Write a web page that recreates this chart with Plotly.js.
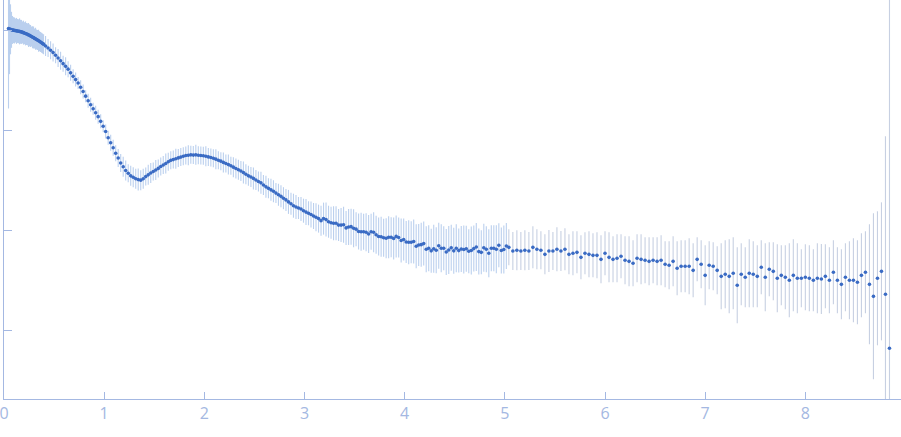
<!DOCTYPE html>
<html>
<head>
<meta charset="utf-8">
<script src="https://cdn.plot.ly/plotly-3.0.1.min.js"></script>
<style>html,body{margin:0;padding:0;background:#fff;}#chart{width:901px;height:437px;}</style>
</head>
<body>
<div id="chart"></div>
<script>
// Scattering vector (x axis), densely sampled part
const qDense = [0.045,0.055,0.065,0.075,0.085,0.095,0.105,0.115,0.125,0.135,0.145,0.155,0.165,0.175,0.185,0.195,0.205,0.215,0.225,0.235,0.245,0.255,0.265,0.275,0.285,0.295,0.305,0.315,0.325,0.335,0.345,0.355,0.365,0.375,0.385,0.395,
0.415,0.44,0.465,0.49,0.515,0.54,0.565,0.59,0.615,0.64,0.665,0.69,0.715,0.74,0.765,0.79,0.815,0.84,0.865,0.89,0.915,0.94,0.965,0.99,1.015,1.04,1.065,1.09,1.115,1.14,1.165,1.19,1.215,1.24,1.265,1.29,1.315,1.34,1.365,1.39,1.415,1.44,1.465,1.49,1.515,1.54,1.565,1.59,1.615,1.64,1.665,1.69,1.715,1.74,1.765,1.79,1.815,1.84,1.865,1.89,1.915,1.94,1.965,1.99,2.015,2.04,2.065,2.09,2.115,2.14,2.165,2.19,2.215,2.24,2.265,2.29,2.315,2.34,2.365,2.39,2.415,2.44,2.465,2.49,2.515,2.54,2.565,2.59,2.615,2.64,2.665,2.69,2.715,2.74,2.765,2.79,2.815,2.84,2.865,2.89,2.915,2.94,2.965,2.99,3.015,3.04,3.065,3.09,3.115,3.14,3.165,3.19,3.215,3.24,3.265,3.29,3.315,3.34,3.365,3.39,3.415,3.44,3.465,3.49,3.515,3.54,3.565,3.59,3.615,3.64,3.665,3.69,3.715,3.74,3.765,3.79,3.815,3.84,3.865,3.89,3.915,3.94,3.965,3.99,4.015,4.04,4.065,4.09,4.115,4.14,4.165,4.19,4.215,4.24,4.265,4.29,4.315,4.34,4.365,4.39,4.415,4.44,4.465,4.49,4.515,4.54,4.565,4.59,4.615,4.64,4.665,4.69,4.715,4.74,4.765,4.79,4.815,4.84,4.865,4.89,4.915,4.94,4.965,4.99,5.015];

// Intensity (log axis), densely sampled part
const iDense = [1.035,1.02,1.016,1.004,1.001,0.997,0.989,0.988,0.979,0.978,0.971,0.969,0.960,0.957,0.946,0.941,0.929,0.924,0.912,0.905,0.891,0.884,0.871,0.862,0.847,0.839,0.824,0.816,0.802,0.793,0.780,0.770,0.757,0.746,0.731,0.722,
0.693,0.661,0.628,0.594,0.560,0.525,0.492,0.461,0.433,0.406,0.373,0.344,0.319,0.295,0.268,0.243,0.218,0.196,0.179,0.163,0.149,0.136,0.122,0.109,0.0966,0.0836,0.0746,0.0664,0.0586,0.0525,0.0468,0.0429,0.0394,0.0370,0.0348,0.0337,0.0326,0.0319,0.0315,0.0325,0.0342,0.0356,0.0371,0.0385,0.0398,0.0413,0.0431,0.0447,0.0462,0.0481,0.0497,0.0506,0.0515,0.0526,0.0536,0.0546,0.0556,0.0560,0.0564,0.0561,0.0564,0.0560,0.0556,0.0552,0.0546,0.0538,0.0531,0.0521,0.0511,0.0499,0.0488,0.0474,0.0462,0.0451,0.0439,0.0425,0.0412,0.0400,0.0389,0.0375,0.0361,0.0348,0.0339,0.0328,0.0316,0.0306,0.0296,0.0282,0.0270,0.0261,0.0252,0.0244,0.0234,0.0225,0.0217,0.0208,0.0200,0.0191,0.0183,0.0175,0.0170,0.0166,0.0162,0.0156,0.0151,0.0147,0.0143,0.0138,0.0134,0.0130,0.0124,0.0130,0.0127,0.0121,0.0118,0.0117,0.0117,0.0112,0.0112,0.0113,0.0105,0.0107,0.0108,0.0104,0.0102,0.00966,0.00959,0.00961,0.00948,0.00912,0.00961,0.00948,0.00895,0.00861,0.00857,0.00836,0.00826,0.00847,0.00847,0.00822,0.00863,0.00841,0.00785,0.00804,0.00759,0.00753,0.00753,0.00767,0.00687,0.00708,0.00714,0.00731,0.00643,0.00658,0.00619,0.00649,0.00628,0.00695,0.00658,0.00657,0.00603,0.00631,0.00665,0.00619,0.00658,0.00622,0.00646,0.00638,0.00649,0.00612,0.00624,0.00652,0.00676,0.00608,0.00598,0.00664,0.00643,0.00586,0.00657,0.00657,0.00641,0.00705,0.00624,0.00638,0.00692];

// Error bar half-length in decades, densely sampled part
const errDense = [0.8,0.45,0.25,0.18,0.14,0.13,0.13,0.12,0.13,0.12,0.12,0.13,0.12,0.12,0.11,0.12,0.11,0.12,0.11,0.11,0.12,0.11,0.11,0.10,0.11,0.11,0.10,0.11,0.10,0.10,0.11,0.10,0.10,0.10,0.10,0.10,
0.10,0.09,
0.09,0.09,0.08,0.09,0.09,0.08,0.09,0.08,0.08,
0.07,0.07,0.06,0.07,0.07,0.06,0.07,0.07,0.06,0.07,0.07,0.07,0.06,0.07,0.07,0.08,0.08,0.08,0.09,
0.09,0.10,0.10,0.09,0.10,0.10,0.10,0.11,0.10,0.10,0.09,0.10,0.10,0.09,0.10,0.09,
0.09,0.09,0.10,0.09,0.09,0.09,0.10,0.09,0.09,0.09,0.09,0.10,0.09,0.09,0.10,0.09,0.09,0.09,0.10,0.09,0.09,0.09,0.10,0.09,0.09,0.10,0.09,0.10,0.09,0.10,
0.10,0.10,0.10,0.11,0.10,0.10,0.10,0.11,0.10,0.10,0.11,0.10,0.11,0.10,0.11,0.11,0.10,0.11,0.11,0.11,
0.11,0.12,0.11,0.12,0.12,0.11,0.12,0.12,0.13,0.12,0.13,0.13,0.14,0.14,0.15,
0.16,0.17,0.16,0.16,0.17,0.17,0.16,0.17,0.18,0.17,
0.18,0.18,0.19,0.17,0.18,0.19,0.18,0.19,0.19,0.18,0.20,0.19,0.19,0.20,0.19,
0.20,0.21,0.20,0.21,0.21,0.20,0.22,0.21,0.21,0.22,0.21,0.22,0.22,0.21,0.22,
0.22,0.23,0.23,0.22,0.24,0.23,0.23,0.24,0.22,0.23,0.24,0.23,0.23,0.24,0.22,0.23,0.24,0.23,0.22,0.24,0.23,0.24,0.23,0.22,0.24,0.23,0.24,0.23,0.23,0.24,0.22,0.23,0.24,0.23];

// Sparsely sampled part (q > 5)
const qSparse = [5.04,5.08,5.12,5.16,5.2,5.24,5.28,5.32,5.36,5.4,5.44,5.48,5.52,5.56,5.6,5.64,5.68,5.72,5.76,5.8,5.84,5.88,5.92,5.96,6,6.04,6.08,6.12,6.16,6.2,6.24,6.28,6.32,6.36,6.4,6.44,6.48,6.52,6.56,6.6,6.64,6.68,6.72,6.76,6.8,6.84,6.88,6.92,6.96,7,7.04,7.08,7.12,7.16,7.2,7.24,7.28,7.32,7.36,7.4,7.44,7.48,7.52,7.56,7.6,7.64,7.68,7.72,7.76,7.8,7.84,7.88,7.92,7.96,8,8.04,8.08,8.12,8.16,8.2,8.24,8.28,8.32,8.36,8.4,8.44,8.48,8.52,8.56,8.6,8.64,8.68,8.72,8.76,8.8,8.84];

const iSparse = [0.00671,0.00617,0.00627,0.00617,0.00627,0.00617,0.00671,0.00641,0.00627,0.00571,
0.00617,0.00617,0.00641,0.00617,0.00641,0.00571,0.00585,0.00598,0.00533,0.00585,
0.00571,0.00558,0.00558,0.00509,0.00585,0.00533,0.00509,0.00521,0.00546,0.00498,
0.00486,0.00465,0.00521,0.00509,0.00498,0.00486,0.00498,0.00486,0.00498,0.00454,
0.00444,0.00486,0.00414,0.00434,0.00434,0.00434,0.00395,0.00509,0.00454,0.00352,
0.00444,0.00434,0.00395,0.00344,0.00361,0.00344,0.00369,0.00280,0.00361,0.00337,
0.00369,0.00361,0.00344,0.00424,0.00337,0.00405,0.00386,0.00329,0.00352,0.00337,
0.00314,0.00352,0.00329,0.00329,0.00337,0.00329,0.00314,0.00329,0.00324,0.00344,
0.00314,0.00378,0.00314,0.00286,0.00337,0.00314,0.00314,0.00300,0.00352,0.00378,
0.00286,0.00217,0.00329,0.00386,0.00228,0.000656];

const errSparse = [0.18,0.19,0.20,0.19,0.20,0.19,0.21,0.20,0.19,0.20,
0.21,0.19,0.22,0.20,0.21,0.20,0.22,0.21,0.22,0.21,
0.23,0.22,0.23,0.24,0.22,0.25,0.23,0.24,0.22,0.24,
0.25,0.23,0.24,0.25,0.23,0.24,0.23,0.24,0.25,0.23,
0.24,0.25,0.27,0.26,0.26,0.28,0.27,
0.22,0.24,0.30,0.24,0.24,0.24,0.33,0.34,0.37,0.36,0.38,0.31,0.30,0.34,0.33,0.31,0.27,0.34,0.27,0.29,0.34,
0.30,0.32,0.37,0.36,0.35,0.29,0.33,0.33,0.31,0.35,0.35,0.32,0.33,0.32,0.33,0.35,0.34,0.39,0.42,0.42,0.42,0.41,0.60,0.83,0.67,0.69,1.58,3.6];

function bars(vals, dec, color) {
  return {
    type: 'data', symmetric: false, visible: true,
    array: vals.map((v, i) => v * (Math.pow(10, dec[i]) - 1)),
    arrayminus: vals.map((v, i) => v * (1 - Math.pow(10, -dec[i]))),
    color: color, thickness: 1.1, width: 0
  };
}

const pointColor = '#3a6bc4';
const axisColor = '#a4b8e2';

const traces = [
  {
    x: qDense, y: iDense, type: 'scatter', mode: 'markers',
    marker: {color: pointColor, size: 3.6},
    error_y: bars(iDense, errDense, 'rgba(170,196,234,0.8)'),
    hoverinfo: 'skip', showlegend: false
  },
  {
    x: qSparse, y: iSparse, type: 'scatter', mode: 'markers',
    marker: {color: pointColor, size: 3.6},
    error_y: bars(iSparse, errSparse, 'rgba(196,206,224,0.95)'),
    hoverinfo: 'skip', showlegend: false
  }
];

const layout = {
  width: 901, height: 437,
  margin: {l: 4, r: 0, t: 0, b: 38, pad: 0},
  paper_bgcolor: '#ffffff', plot_bgcolor: '#ffffff',
  showlegend: false,
  font: {family: 'Open Sans, sans-serif', color: axisColor},
  xaxis: {
    range: [0, 8.955], showgrid: false, zeroline: false,
    showline: true, linecolor: axisColor, linewidth: 1,
    ticks: 'inside', ticklen: 7, tickcolor: axisColor, tickwidth: 1,
    dtick: 1, tick0: 0, ticklabeloverflow: 'allow',
    tickfont: {size: 16, color: axisColor}
  },
  yaxis: {
    type: 'log', range: [-3.69, 0.3], showgrid: false, zeroline: false,
    showline: true, linecolor: axisColor, linewidth: 1,
    ticks: 'inside', ticklen: 8, tickcolor: axisColor, tickwidth: 1,
    dtick: 1, showticklabels: false
  }
};

Plotly.newPlot('chart', traces, layout, {displayModeBar: false, staticPlot: true});
</script>
</body>
</html>
